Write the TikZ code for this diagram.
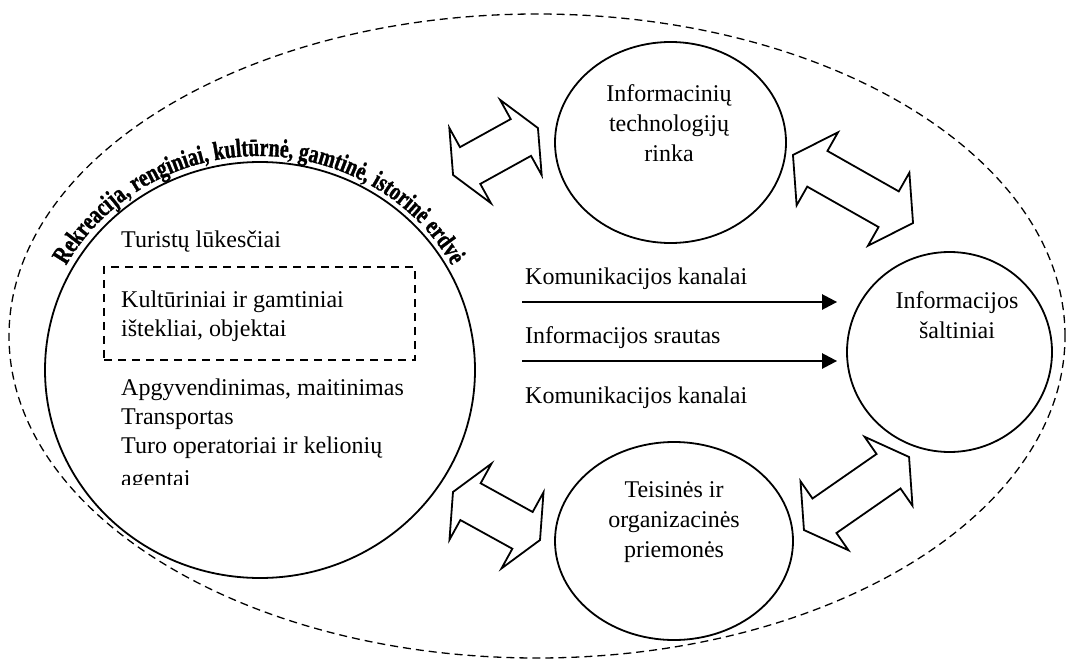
\documentclass[tikz,border=0pt]{standalone}
\usepackage{fontspec}
\setmainfont{Liberation Serif}
\newfontfamily\wafont[FakeStretch=0.76,FakeBold=1.2]{Liberation Serif Bold}
\usetikzlibrary{shapes.geometric,arrows.meta,decorations.text}
\newcommand\dblarr[7]{%
 \begin{scope}[shift={(#1,#2)},rotate=#3]
  \draw[dblarrow] (-#4,0) -- (-#4+#5,-#6) -- (-#4+#5,-#7) -- (#4-#5,-#7) -- (#4-#5,-#6) -- (#4,0)
     -- (#4-#5,#6) -- (#4-#5,#7) -- (-#4+#5,#7) -- (-#4+#5,#6) -- cycle;
 \end{scope}}
\begin{document}
\begin{tikzpicture}[x=1pt,y=-1pt,
  bubble/.style={draw,line width=1.8pt,ellipse,inner sep=0pt},
  lbl/.style={font=\fontsize{24}{30}\selectfont,align=center,inner sep=0pt},
  ltxt/.style={font=\fontsize{24}{30}\selectfont,anchor=base west,inner sep=0pt},
  flow/.style={line width=2.5pt,-{Triangle[length=15pt,width=15pt]}},
  dblarrow/.style={draw,line width=1.8pt,line join=miter,fill=white},
  dashbox/.style={draw,line width=1.5pt,dash pattern=on 8pt off 6pt,inner sep=0pt},
]
\useasboundingbox (0,0) rectangle (1068,666);
\fill[white] (0,0) rectangle (1068,666);

% outer dashed space
\node[ellipse,draw,line width=1.3pt,dash pattern=on 8pt off 5pt,inner sep=0pt,
      minimum width=1056,minimum height=644] (space) at (537,336) {};

% main ellipse
\node[bubble,minimum width=430,minimum height=416] (res) at (260,370) {};

% curved text
\path[decorate,decoration={text along path,text align=center,
   text={|\wafont\fontsize{26}{28}\selectfont|Rekreacija, renginiai, kultūrnė, gamtinė, istorinė erdvė}}]
   (259,370) ++(198:221 and 214) arc[start angle=198,end angle=342,x radius=221,y radius=214];

% texts inside main ellipse
\node[ltxt] (t1) at (121,247) {Turistų lūkesčiai};
\node[dashbox,minimum width=311,minimum height=93] (box) at (259.5,313.5) {};
\node[ltxt] (t2) at (121,307) {Kultūriniai ir gamtiniai};
\node[ltxt] (t3) at (121,336) {ištekliai, objektai};
\node[ltxt] (t4) at (121,395) {Apgyvendinimas, maitinimas};
\node[ltxt] (t5) at (121,424) {Transportas};
\node[ltxt] (t6) at (121,453) {Turo operatoriai ir kelionių};
\begin{scope}
 \clip (100,460) rectangle (420,484);
 \node[ltxt] (t7) at (121,486) {agentai};
\end{scope}

% other circles
\node[bubble,minimum width=231,minimum height=201] (itr) at (670.5,142.5) {};
\node[lbl] (itrl) at (669,123) {Informacinių\\technologijų\\rinka};
\node[bubble,minimum width=205,minimum height=200] (src) at (949.5,352) {};
\node[lbl] (srcl) at (957,315) {Informacijos\\šaltiniai};
\node[bubble,minimum width=238,minimum height=198] (law) at (674,541) {};
\node[lbl] (lawl) at (674,522) {Teisinės ir\\organizacinės\\priemonės};

% flows
\coordinate (a1) at (522,302);
\coordinate (a2) at (522,361);
\draw[flow,shorten >=9pt] (a1) -- (a1 -| src.west);
\draw[flow,shorten >=9pt] (a2) -- (a2 -| src.west);
\node[ltxt] (k1) at (525,284) {Komunikacijos kanalai};
\node[ltxt] (is) at (525,343) {Informacijos srautas};
\node[ltxt] (k2) at (525,403) {Komunikacijos kanalai};

% block double arrows
\dblarr{495.5}{151.5}{28.94}{48.5}{19.5}{43}{21}
\dblarr{853}{189}{-29.54}{69}{28}{42}{20.5}
\dblarr{496.5}{516}{-28.9}{49.7}{20}{43.5}{21}
\dblarr{856.5}{493.5}{34.8}{64}{25}{42}{21}
\end{tikzpicture}
\end{document}
